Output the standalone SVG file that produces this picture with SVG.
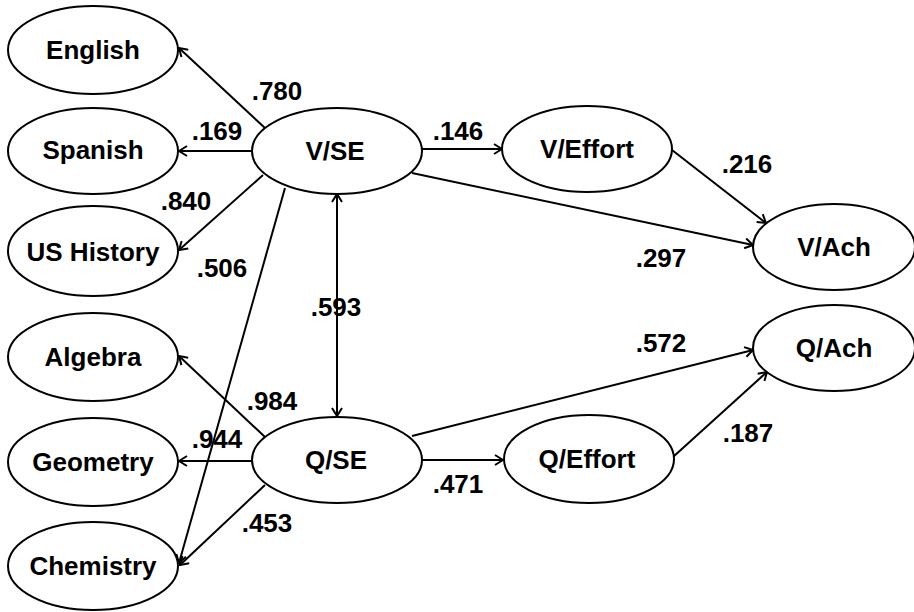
<svg xmlns="http://www.w3.org/2000/svg" width="914" height="612" viewBox="0 0 914 612">
<defs>
<style>
.node ellipse{fill:#fff;stroke:#000;stroke-width:2}
.node text{font-family:"Liberation Sans",Arial,sans-serif;font-weight:bold;font-size:26px;text-anchor:middle;fill:#000}
.edges line{stroke:#000;stroke-width:2;fill:none}
.lbl{font-family:"Liberation Sans",Arial,sans-serif;font-weight:bold;font-size:26px;text-anchor:middle;fill:#000}
</style>
<marker id="arr" viewBox="0 0 10 12" refX="9" refY="6" markerWidth="10" markerHeight="12" markerUnits="userSpaceOnUse" orient="auto-start-reverse">
<path d="M1,1 L9,6 L1,11" fill="none" stroke="#000" stroke-width="2"/>
</marker>
</defs>
<rect width="914" height="612" fill="#fff"/>
<g class="edges">
<line x1="265" y1="128" x2="179" y2="48" marker-end="url(#arr)"/>
<line x1="252" y1="151" x2="179" y2="151" marker-end="url(#arr)"/>
<line x1="263" y1="175" x2="179" y2="250" marker-end="url(#arr)"/>
<line x1="285" y1="188" x2="179" y2="563" marker-end="url(#arr)"/>
<line x1="265" y1="437" x2="179" y2="356" marker-end="url(#arr)"/>
<line x1="252" y1="461" x2="179" y2="461" marker-end="url(#arr)"/>
<line x1="265" y1="485" x2="180" y2="565" marker-end="url(#arr)"/>
<line x1="337" y1="194" x2="337" y2="416" marker-start="url(#arr)" marker-end="url(#arr)"/>
<line x1="422" y1="149" x2="502" y2="149" marker-end="url(#arr)"/>
<line x1="412" y1="173" x2="753" y2="245" marker-end="url(#arr)"/>
<line x1="672" y1="150" x2="766" y2="223" marker-end="url(#arr)"/>
<line x1="412" y1="436" x2="753" y2="350" marker-end="url(#arr)"/>
<line x1="422" y1="460" x2="503" y2="460" marker-end="url(#arr)"/>
<line x1="673" y1="457" x2="767" y2="372" marker-end="url(#arr)"/>
</g>
<g class="labels">
<text class="lbl" x="277" y="100">.780</text>
<text class="lbl" x="217" y="140">.169</text>
<text class="lbl" x="186" y="210">.840</text>
<text class="lbl" x="222" y="277">.506</text>
<text class="lbl" x="336" y="316">.593</text>
<text class="lbl" x="272" y="410">.984</text>
<text class="lbl" x="217" y="448">.944</text>
<text class="lbl" x="267" y="532">.453</text>
<text class="lbl" x="458" y="140">.146</text>
<text class="lbl" x="747" y="173">.216</text>
<text class="lbl" x="661" y="267">.297</text>
<text class="lbl" x="661" y="352">.572</text>
<text class="lbl" x="748" y="442">.187</text>
<text class="lbl" x="458" y="493">.471</text>
</g>
<g id="english" class="node"><ellipse cx="93" cy="50" rx="85" ry="44"/><text x="93" y="59">English</text></g>
<g id="spanish" class="node"><ellipse cx="93" cy="151" rx="85" ry="43"/><text x="93" y="159">Spanish</text></g>
<g id="ushistory" class="node"><ellipse cx="93" cy="251" rx="85" ry="45"/><text x="93" y="261">US History</text></g>
<g id="algebra" class="node"><ellipse cx="93" cy="357" rx="85" ry="44"/><text x="93" y="366">Algebra</text></g>
<g id="geometry" class="node"><ellipse cx="93" cy="462" rx="85" ry="44"/><text x="93" y="471">Geometry</text></g>
<g id="chemistry" class="node"><ellipse cx="93" cy="566" rx="85" ry="44"/><text x="93" y="575">Chemistry</text></g>
<g id="vse" class="node"><ellipse cx="337" cy="151" rx="85" ry="43"/><text x="335" y="160">V/SE</text></g>
<g id="qse" class="node"><ellipse cx="337" cy="460" rx="85" ry="43"/><text x="336" y="469">Q/SE</text></g>
<g id="veffort" class="node"><ellipse cx="587" cy="149" rx="85" ry="43"/><text x="587" y="158">V/Effort</text></g>
<g id="qeffort" class="node"><ellipse cx="589" cy="459" rx="85" ry="44"/><text x="587" y="468">Q/Effort</text></g>
<g id="vach" class="node"><ellipse cx="834" cy="247" rx="81" ry="43"/><text x="834" y="256">V/Ach</text></g>
<g id="qach" class="node"><ellipse cx="834" cy="348" rx="81" ry="43"/><text x="834" y="357">Q/Ach</text></g>
</svg>
